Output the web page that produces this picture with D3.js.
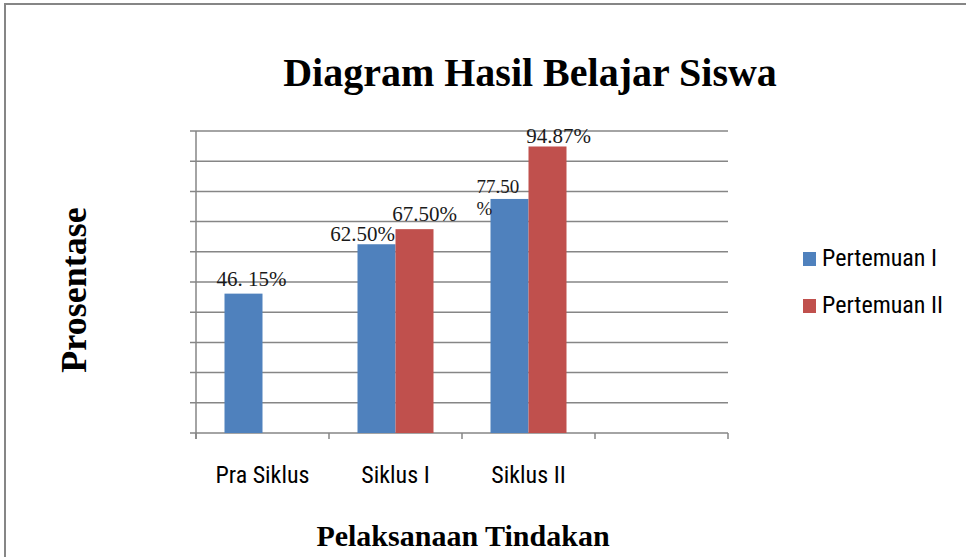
<!DOCTYPE html>
<html><head><meta charset="utf-8">
<script src="https://cdn.jsdelivr.net/npm/d3@7"></script>
<style>body{margin:0;background:#fff}svg{display:block}</style>
</head><body>
<script>
const categories = ["Pra Siklus", "Siklus I", "Siklus II", ""];
const seriesNames = ["Pertemuan I", "Pertemuan II"];
const pertemuan1 = [46.15, 62.50, 77.50, null];
const pertemuan2 = [null, 67.50, 94.87, null];
const labels1 = ["46. 15%", "62.50%", "77.50\n%", null];
const labels2 = [null, "67.50%", "94.87%", null];
const labelDx1 = [8, -14, -33, 0];
const labelDy1 = [-8, -3, -6, 0];
const labelDx2 = [0, 10, 11, 0];
const labelDy2 = [0, -8, -3, 0];
const colors = ["#4F81BD", "#C0504D"];
const yTicks = [0,10,20,30,40,50,60,70,80,90,100];

const W = 966, H = 557;
const svg = d3.select("body").append("svg").attr("width", W).attr("height", H);

svg.append("rect").attr("x",5).attr("y",4).attr("width",W+10).attr("height",H+10)
  .attr("fill","#fff").attr("stroke","#868686").attr("stroke-width",2);

const plot = {l:196, r:728, t:131, b:433};
const x = d3.scaleBand().domain(categories.map((c,i)=>i)).range([plot.l, plot.r]);
const y = d3.scaleLinear().domain([0,100]).range([plot.b, plot.t]);
const barW = 38;
const xs = d3.scaleBand().domain([0,1]).range([0, barW*2]);
const groupOff = (x.bandwidth() - barW*2)/2;

svg.append("g").selectAll("line").data(yTicks).join("line")
  .attr("x1", plot.l-6).attr("x2", plot.r)
  .attr("y1", d=>y(d)).attr("y2", d=>y(d))
  .attr("stroke","#868686").attr("stroke-width",1.5);
svg.append("line").attr("x1",plot.l).attr("x2",plot.l).attr("y1",plot.t).attr("y2",plot.b+6)
  .attr("stroke","#868686").attr("stroke-width",1.5);
const bounds = categories.map((c,i)=>x(i)).concat([plot.r]);
svg.append("g").selectAll("line").data(bounds).join("line")
  .attr("x1",d=>d).attr("x2",d=>d).attr("y1",plot.b).attr("y2",plot.b+6)
  .attr("stroke","#868686").attr("stroke-width",1.5);

const series = [pertemuan1, pertemuan2];
series.forEach((vals, s) => {
  svg.append("g").selectAll("rect").data(vals.map((v,i)=>({v,i})).filter(d=>d.v!=null)).join("rect")
    .attr("x", d=> x(d.i) + groupOff + xs(s))
    .attr("y", d=>y(d.v))
    .attr("width", barW)
    .attr("height", d=>plot.b - y(d.v))
    .attr("fill", colors[s]);
});

const serif = "'Liberation Serif','Times New Roman',serif";
const sans = "'Roboto Condensed','Liberation Sans Narrow','Open Sans',sans-serif";
[[labels1,pertemuan1,labelDx1,labelDy1,0],[labels2,pertemuan2,labelDx2,labelDy2,1]].forEach(([labs,vals,dxs,dys,s])=>{
  labs.forEach((t,i)=>{
    if(t==null) return;
    const cx = x(i)+groupOff+xs(s)+barW/2+dxs[i];
    const by = y(vals[i])+dys[i];
    const lines = t.split("\n");
    lines.forEach((ln,k)=>{
      svg.append("text").attr("font-family",serif).attr("font-size",lines.length>1?19:21)
        .attr("fill","#1a1a1a").attr("text-anchor", lines.length>1?"start":"middle")
        .attr("x",cx).attr("y",by + k*22).text(ln);
    });
  });
});

svg.append("g").selectAll("text").data(categories).join("text")
  .attr("x",(d,i)=>x(i)+x.bandwidth()/2).attr("y",483)
  .attr("text-anchor","middle").attr("font-family",sans)
  .attr("font-size",24).attr("fill","#000").text(d=>d);

svg.append("text").attr("x",530).attr("y",86).attr("text-anchor","middle")
  .attr("font-family",serif).attr("font-weight","bold").attr("font-size",40).text("Diagram Hasil Belajar Siswa");
svg.append("text").attr("transform","translate(86,290) rotate(-90)").attr("text-anchor","middle")
  .attr("font-family",serif).attr("font-weight","bold").attr("font-size",36).text("Prosentase");
svg.append("text").attr("x",463).attr("y",546).attr("text-anchor","middle")
  .attr("font-family",serif).attr("font-weight","bold").attr("font-size",30).text("Pelaksanaan Tindakan");

const lg = svg.append("g").selectAll("g").data(seriesNames).join("g")
  .attr("transform",(d,i)=>`translate(803,${252+i*47})`);
lg.append("rect").attr("width",13).attr("height",14).attr("fill",(d,i)=>colors[i]);
lg.append("text").attr("x",19).attr("y",14).attr("font-family",sans)
  .attr("font-size",24).attr("fill","#000").text(d=>d);
</script>
</body></html>
